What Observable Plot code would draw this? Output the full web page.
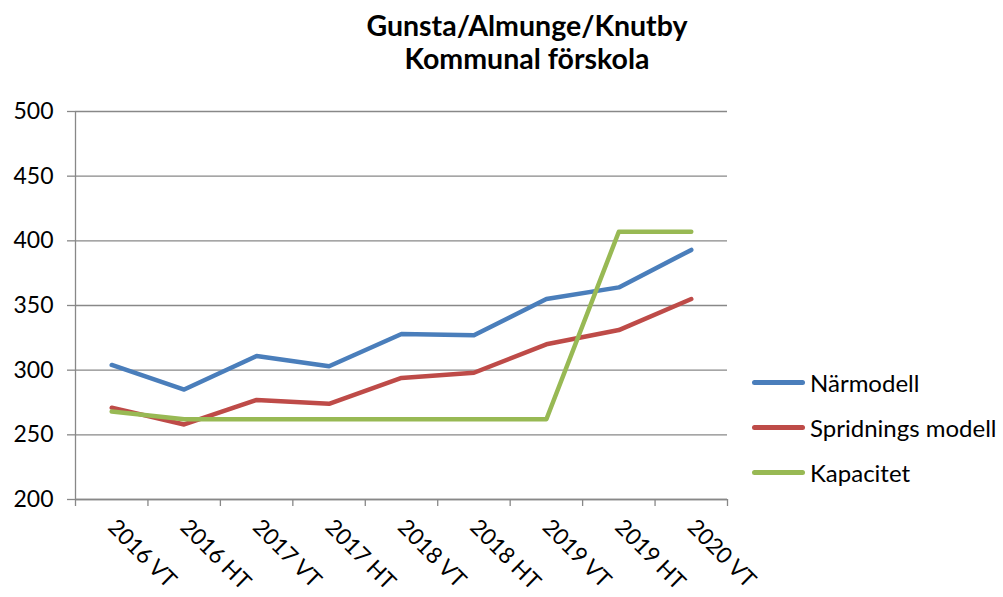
<!DOCTYPE html>
<html>
<head>
<meta charset="utf-8">
<script src="https://cdn.jsdelivr.net/npm/d3@7"></script>
<script src="https://cdn.jsdelivr.net/npm/@observablehq/plot@0.6"></script>
<style>
  body { margin: 0; background: #fff; }
  #wrap { position: relative; width: 1003px; height: 597px; font-family: "Lato", "Open Sans", sans-serif; }
  #title { position: absolute; top: 9px; left: 277px; width: 500px; text-align: center; font-weight: bold; font-size: 28.5px; line-height: 33px; color: #000; }
  #legend { position: absolute; left: 752px; top: 360px; font-size: 24px; color: #000; }
  .row { display: flex; align-items: center; height: 45px; }
  .sw { width: 53px; height: 5px; border-radius: 3px; margin-right: 5px; }
  #chart { position: absolute; left: 0; top: 0; }
</style>
</head>
<body>
<div id="wrap">
  <div id="chart"></div>
  <div id="title">Gunsta/Almunge/Knutby<br>Kommunal förskola</div>
  <div id="legend"></div>
</div>
<script>
const categories = ["2016 VT", "2016 HT", "2017 VT", "2017 HT", "2018 VT", "2018 HT", "2019 VT", "2019 HT", "2020 VT"];
const seriesNames = ["Närmodell", "Spridnings modell", "Kapacitet"];
const seriesColors = ["#4a7ebb", "#be4b48", "#98b954"];
const narmodell = [304, 285, 311, 303, 328, 327, 355, 364, 393];
const spridning = [271, 258, 277, 274, 294, 298, 320, 331, 355];
const kapacitet = [268, 262, 262, 262, 262, 262, 262, 407, 407];
const yTicks = [200, 250, 300, 350, 400, 450, 500];

const allSeries = [narmodell, spridning, kapacitet];
const data = [];
allSeries.forEach((vals, s) => vals.forEach((v, i) => data.push({series: seriesNames[s], i, value: v})));

const idx = categories.map((_, i) => i);
const bounds = d3.range(categories.length + 1).map(i => i - 0.5);
const axisColor = "#888888";

const chart = Plot.plot({
  width: 1003,
  height: 597,
  marginLeft: 75,
  marginRight: 276,
  marginTop: 111,
  marginBottom: 98,
  style: {fontFamily: "Lato, 'Open Sans', sans-serif", fontSize: "23px", color: "#000", background: "transparent"},
  x: {type: "linear", domain: [-0.5, categories.length - 0.5]},
  y: {domain: [200, 500]},
  color: {domain: seriesNames, range: seriesColors},
  marks: [
    Plot.gridY(yTicks, {stroke: axisColor, strokeOpacity: 1, strokeWidth: 1.3}),
    Plot.axisY(yTicks, {tickSize: 8, tickPadding: 14, stroke: axisColor, strokeWidth: 1.3, fontSize: 23, fill: "#000", label: null, tickFormat: d => String(d)}),
    Plot.axisX(bounds, {tickSize: 7, stroke: axisColor, strokeWidth: 1.3, tickFormat: () => "", label: null}),
    Plot.axisX(idx, {tickSize: 0, tickPadding: 24, tickRotate: 45, fontSize: 22.5, fill: "#000", tickFormat: i => categories[i], label: null}),
    Plot.ruleX([-0.5], {stroke: axisColor, strokeWidth: 1.3}),
    Plot.ruleY([200], {stroke: axisColor, strokeWidth: 1.3}),
    Plot.line(data, {x: "i", y: "value", z: "series", stroke: "series", strokeWidth: 4.5, strokeLinecap: "round", strokeLinejoin: "round"})
  ]
});
document.getElementById("chart").appendChild(chart);

const legend = document.getElementById("legend");
seriesNames.forEach((name, s) => {
  const row = document.createElement("div");
  row.className = "row";
  const sw = document.createElement("div");
  sw.className = "sw";
  sw.style.background = seriesColors[s];
  const label = document.createElement("span");
  label.textContent = name;
  row.appendChild(sw);
  row.appendChild(label);
  legend.appendChild(row);
});
</script>
</body>
</html>
